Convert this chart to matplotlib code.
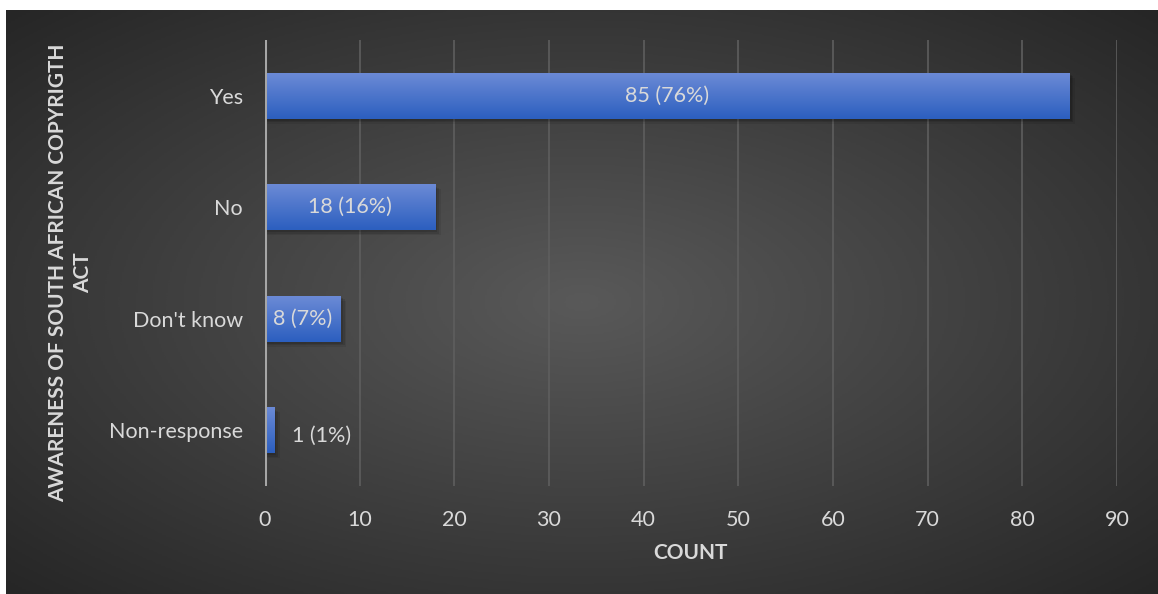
import numpy as np
import matplotlib.pyplot as plt
from matplotlib.colors import LinearSegmentedColormap

categories = ['Yes', 'No', "Don't know", 'Non-response']
counts = [85, 18, 8, 1]
labels = ['85 (76%)', '18 (16%)', '8 (7%)', '1 (1%)']

plt.rcParams['font.family'] = ['Lato', 'DejaVu Sans']
txt = '#d9d9d9'

fig = plt.figure(figsize=(11.58, 5.94), dpi=100)
fig.patch.set_facecolor('white')

# dark panel with radial gradient
bg = fig.add_axes([6 / 1158, 0, 1 - 6 / 1158, 1 - 10 / 594])
bg.set_axis_off()
yy, xx = np.mgrid[-1:1:300j, -1:1:600j]
r = np.sqrt(xx ** 2 + yy ** 2) / np.sqrt(2)
cmap = LinearSegmentedColormap.from_list('bgc', ['#595959', '#262626'])
bg.imshow(r, cmap=cmap, aspect='auto', extent=[0, 1, 0, 1], vmin=0, vmax=1)

ax = fig.add_axes([265 / 1158, 1 - 486 / 594, (1117 - 265) / 1158, 446 / 594])
ax.patch.set_alpha(0)
ax.set_xlim(0, 90)
ax.set_ylim(3.5, -0.5)
ax.set_xticks(range(0, 91, 10))
ax.set_yticks(range(len(categories)))
ax.set_yticklabels(categories)
ax.tick_params(colors=txt, labelsize=15.5, length=0, pad=16)
ax.tick_params(axis='x', pad=17)
for s in ax.spines.values():
    s.set_visible(False)
ax.grid(axis='x', color='#5e5e5e', linewidth=1.2)
ax.set_axisbelow(True)
ax.axvline(0, color='#a6a6a6', linewidth=2.2, zorder=4)

bar_cmap = LinearSegmentedColormap.from_list('barc', ['#6b8ad6', '#2c5fbf'])
grad = np.linspace(0, 1, 64).reshape(-1, 1)
h = 0.41
for i, (v, lab) in enumerate(zip(counts, labels)):
    # soft shadow under each bar
    for k, a in enumerate([0.12, 0.1, 0.08]):
        ax.barh(i + 0.02 + 0.012 * k, v + 0.2 * (k + 1), height=h, left=0,
                color='black', alpha=a, zorder=1, linewidth=0)
    ax.imshow(grad, cmap=bar_cmap, aspect='auto',
              extent=[0, v, i + h / 2, i - h / 2], zorder=2)
    if v > 5:
        ax.text(v / 2, i, lab, ha='center', va='center', color=txt, fontsize=15.5, zorder=5)
    else:
        ax.text(v + 1.9, i + 0.05, lab, ha='left', va='center', color=txt, fontsize=15.5, zorder=5)
ax.set_xlim(0, 90)
ax.set_ylim(3.5, -0.5)

fig.text(690 / 1158, 1 - 553 / 594, 'COUNT', ha='center', va='center',
         color=txt, fontsize=15, fontweight='bold')
fig.text(71 / 1158, 1 - 273 / 594, 'AWARENESS OF SOUTH AFRICAN COPYRIGTH\nACT',
         ha='center', va='center', rotation=90, color=txt, fontsize=15,
         fontweight='bold', linespacing=1.3)

fig.savefig('out.png', dpi=100)
